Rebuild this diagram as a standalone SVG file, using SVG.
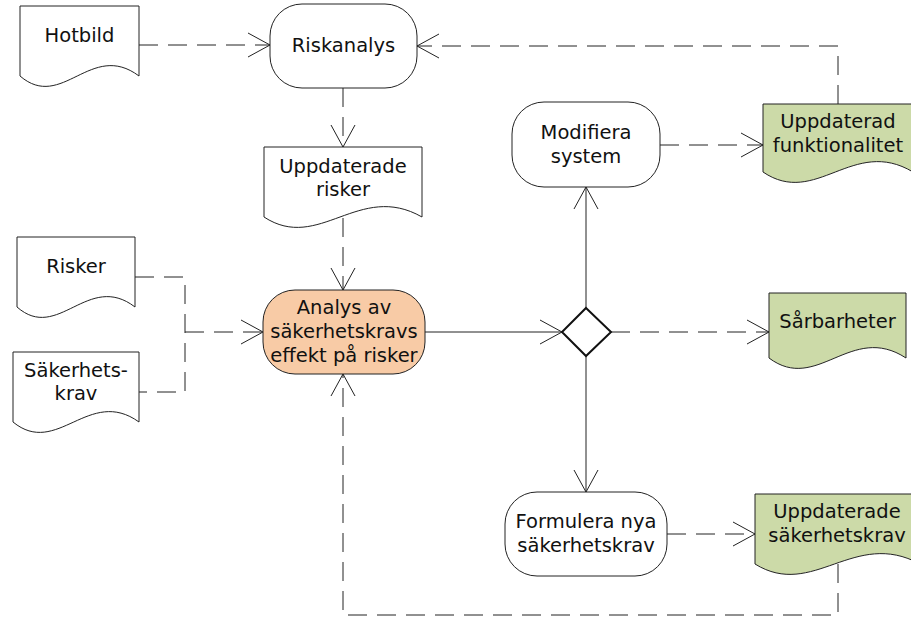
<svg xmlns="http://www.w3.org/2000/svg" width="911" height="618" viewBox="0 0 911 618">
  <style>
    .doc { fill: #ffffff; stroke: #222; stroke-width: 1; }
    .doc.out { fill: #ccdaa8; }
    .act { fill: #ffffff; stroke: #222; stroke-width: 1; }
    .act.main { fill: #f8cba6; }
    .dec { fill: #ffffff; stroke: #111; stroke-width: 2; }
    .lbl { font-family: "DejaVu Sans", Verdana, sans-serif; font-size: 19.5px; fill: #111; text-anchor: middle; }
    .flow { fill: none; stroke: #222; stroke-width: 1; marker-end: url(#open); }
    .dash { stroke-dasharray: 19 10; }
    .plain { fill: none; stroke: #222; stroke-width: 1; stroke-dasharray: 19 10; }
  </style>
  <defs>
    <marker id="open" markerUnits="userSpaceOnUse" viewBox="-24 -14 26 28" refX="0" refY="0" markerWidth="26" markerHeight="28" orient="auto" overflow="visible">
      <path d="M-22,-12 L0,0 L-22,12" fill="none" stroke="#222" stroke-width="1"/>
    </marker>
  </defs>

  <rect width="911" height="618" fill="#ffffff"/>

  <!-- connectors -->
  <g id="connectors">
    <path class="flow dash" d="M139,45 H270"/>
    <path class="flow dash" d="M343,88 V147"/>
    <path class="flow dash" d="M343,218 V290"/>
    <path class="plain" d="M135,277 H185 V392 H139"/>
    <path class="flow dash" d="M185,332 H263"/>
    <path class="flow" d="M425,332 H562"/>
    <path class="flow" d="M586,308 V187"/>
    <path class="flow" d="M586,356 V492"/>
    <path class="flow dash" d="M611,332 H769"/>
    <path class="flow dash" d="M660,145 H763"/>
    <path class="flow dash" d="M667,534 H755"/>
    <path class="flow dash" d="M838,104 V46 H417"/>
    <path class="flow dash" d="M838,564 V615 H343 V374"/>
  </g>

  <!-- input documents -->
  <g id="hotbild">
    <path class="doc" d="M20,76 V6 H139 V76 C91,40 62,112 20,76 Z"/>
    <text class="lbl" x="79.5" y="42">Hotbild</text>
  </g>
  <g id="uppdaterade-risker">
    <path class="doc" d="M264,217 V147 H422 V217 C359,181 319,253 264,217 Z"/>
    <text class="lbl" x="343" y="173">Uppdaterade</text>
    <text class="lbl" x="343" y="196">risker</text>
  </g>
  <g id="risker">
    <path class="doc" d="M17,307 V237 H135 V307 C88,271 58,343 17,307 Z"/>
    <text class="lbl" x="76" y="273">Risker</text>
  </g>
  <g id="sakerhetskrav">
    <path class="doc" d="M13,422 V352 H139 V422 C89,386 57,458 13,422 Z"/>
    <text class="lbl" x="76" y="377">Säkerhets-</text>
    <text class="lbl" x="76" y="400">krav</text>
  </g>

  <!-- activities -->
  <g id="riskanalys">
    <rect class="act" x="270" y="4" width="147" height="84" rx="32" ry="32"/>
    <text class="lbl" x="343.5" y="52">Riskanalys</text>
  </g>
  <g id="analys">
    <rect class="act main" x="263" y="290" width="162" height="84" rx="32" ry="32"/>
    <text class="lbl" x="344" y="314">Analys av</text>
    <text class="lbl" x="344" y="338">säkerhetskravs</text>
    <text class="lbl" x="344" y="362">effekt på risker</text>
  </g>
  <g id="modifiera">
    <rect class="act" x="512" y="102" width="148" height="85" rx="32" ry="32"/>
    <text class="lbl" x="586" y="139">Modifiera</text>
    <text class="lbl" x="586" y="163">system</text>
  </g>
  <g id="formulera">
    <rect class="act" x="505" y="492" width="162" height="84" rx="32" ry="32"/>
    <text class="lbl" x="586" y="528">Formulera nya</text>
    <text class="lbl" x="586" y="552">säkerhetskrav</text>
  </g>

  <!-- decision -->
  <g id="beslut">
    <path class="dec" d="M586,308 L611,332 L586,356 L562,332 Z"/>
  </g>

  <!-- output documents -->
  <g id="uppdaterad-funktionalitet">
    <path class="doc out" d="M763,172 V104 H913 V172 C853,136 816,208 763,172 Z"/>
    <text class="lbl" x="838" y="128">Uppdaterad</text>
    <text class="lbl" x="838" y="152">funktionalitet</text>
  </g>
  <g id="sarbarheter">
    <path class="doc out" d="M769,358 V293 H906 V358 C851,322 817,394 769,358 Z"/>
    <text class="lbl" x="837.5" y="328">Sårbarheter</text>
  </g>
  <g id="uppdaterade-sakerhetskrav">
    <path class="doc out" d="M755,564 V494 H920 V564 C854,528 813,600 755,564 Z"/>
    <text class="lbl" x="837" y="518">Uppdaterade</text>
    <text class="lbl" x="837" y="542">säkerhetskrav</text>
  </g>
</svg>
